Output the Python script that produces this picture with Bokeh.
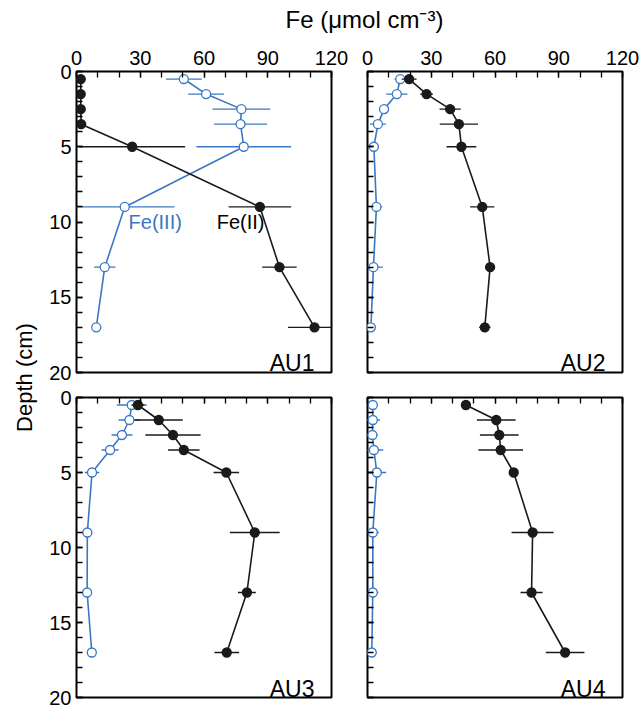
import numpy as np
from math import pi
from bokeh.plotting import figure
from bokeh.layouts import row, column
from bokeh.models import FixedTicker, Label, ColumnDataSource, Range1d
from bokeh.embed import file_html
from bokeh.resources import INLINE
from bokeh.core.properties import value

# ---- data ----
depth = [0.5, 1.5, 2.5, 3.5, 5, 9, 13, 17]

au1_fe2 = [2, 2, 2, 2.2, 26.2, 86.3, 95.5, 112]
au1_fe2_err = [1, 1, 1, 1, 24.9, 14.7, 8.1, 12.5]
au1_fe3 = [50.5, 61, 77.6, 77.2, 78.7, 22.7, 13.3, 9.3]
au1_fe3_err = [8.4, 8.4, 13.6, 12.5, 22.3, 23.4, 5, 1.8]

au2_fe2 = [19.6, 27.8, 38.9, 43, 44.2, 54, 57.7, 55.2]
au2_fe2_err = [3.5, 3, 5, 9, 7, 5.7, 1, 2.7]
au2_fe3 = [15.4, 13.8, 7.8, 4.9, 3, 4.2, 2.8, 1.6]
au2_fe3_err = [2.7, 5, 1, 3.7, 2.3, 2.7, 4.4, 1]

au3_fe2 = [28.9, 38.7, 45.4, 50.5, 70.5, 83.9, 80.2, 70.7]
au3_fe2_err = [3, 11.3, 13, 7.4, 6, 11.7, 4.2, 5.8]
au3_fe3 = [26, 24.9, 21.4, 15.8, 7.3, 5.1, 5, 7.2]
au3_fe3_err = [7, 5.1, 4.9, 4, 3.4, 2, 1.9, 2]

au4_fe2 = [46.3, 60.6, 62, 62.7, 68.8, 77.7, 77.2, 93]
au4_fe2_err = [1, 9.1, 9.1, 10.5, 1, 9.9, 5.2, 9.1]
au4_fe3 = [2.5, 2.5, 2.3, 3, 4.4, 2.5, 2.5, 2]
au4_fe3_err = [2, 3.4, 2.5, 4.4, 4.4, 2.8, 2.6, 2.2]

x_ticks = [0, 30, 60, 90, 120]
x_minor = list(range(0, 121, 10))
y_ticks = [0, 5, 10, 15, 20]
y_minor = list(range(0, 21))

panel_names = ["AU1", "AU2", "AU3", "AU4"]
title_text = "Fe (μmol cm⁻³)"
ylabel_text = "Depth (cm)"

FONT = "Liberation Sans"
BLACK = "#1a1a1a"
BLUE = "#3b78c3"


def make_panel(fe2, fe2e, fe3, fe3e, name, show_x, show_y,
               bl, br, bt, bb, fh):
    p = figure(frame_width=255, frame_height=fh,
               x_range=Range1d(0, 120), y_range=Range1d(20, 0),
               x_axis_location="above", y_axis_location="left",
               output_backend="svg", toolbar_location=None,
               min_border_left=bl, min_border_right=br,
               min_border_top=bt, min_border_bottom=bb)
    p.grid.visible = False
    p.outline_line_color = "black"
    p.outline_line_width = 2
    p.background_fill_color = "white"
    p.border_fill_color = "white"

    xa = p.xaxis[0]
    xa.ticker = FixedTicker(ticks=x_ticks, minor_ticks=x_minor)
    ya = p.yaxis[0]
    ya.ticker = FixedTicker(ticks=y_ticks, minor_ticks=y_minor)
    for ax in (xa, ya):
        ax.axis_line_color = None
        ax.major_tick_in = 6
        ax.major_tick_out = 0
        ax.minor_tick_in = 6
        ax.minor_tick_out = 0
        ax.major_tick_line_color = "black"
        ax.minor_tick_line_color = "black"
        ax.major_tick_line_width = 1.3
        ax.minor_tick_line_width = 1.3
        ax.major_label_text_font = FONT
        ax.major_label_text_font_size = "20px"
        ax.major_label_text_color = "black"
    xa.major_label_standoff = 7
    ya.major_label_standoff = 5
    if not show_x:
        xa.major_label_overrides = {t: "" for t in x_ticks}
        xa.major_label_standoff = 0
    if not show_y:
        ya.major_label_overrides = {t: "" for t in y_ticks}
        ya.major_label_standoff = 0

    d = np.array(depth, dtype=float)
    for vals, errs, color, filled in ((fe3, fe3e, BLUE, False),
                                      (fe2, fe2e, BLACK, True)):
        v = np.array(vals, dtype=float)
        e = np.array(errs, dtype=float)
        src = ColumnDataSource(dict(x=v, y=d, lo=v - e, hi=v + e))
        p.segment(x0="lo", x1="hi", y0="y", y1="y", source=src,
                  line_color=color, line_width=1.3)
        p.line(x="x", y="y", source=src, line_color=color, line_width=1.6)
        p.scatter(x="x", y="y", source=src, size=9,
                  fill_color=color if filled else "white",
                  line_color=color, line_width=1.3)

    p.add_layout(Label(x=112, y=19.4, text=name, text_font=FONT,
                       text_font_size="23px", text_color="black",
                       text_align="right", text_baseline="alphabetic"))
    return p


TITLE_H = 34
p1 = make_panel(au1_fe2, au1_fe2_err, au1_fe3, au1_fe3_err, panel_names[0],
                True, True, 36, 18, 37, 12, 301)
p2 = make_panel(au2_fe2, au2_fe2_err, au2_fe3, au2_fe3_err, panel_names[1],
                True, False, 18, 20, 37, 12, 301)
p3 = make_panel(au3_fe2, au3_fe2_err, au3_fe3, au3_fe3_err, panel_names[2],
                False, True, 36, 18, 13, 12, 300)
p4 = make_panel(au4_fe2, au4_fe2_err, au4_fe3, au4_fe3_err, panel_names[3],
                False, False, 18, 20, 13, 12, 300)

p1.add_layout(Label(x=24.5, y=10.0, text="Fe(III)", text_font=FONT,
                    text_font_size="20px", text_color=BLUE,
                    text_align="left", text_baseline="middle"))
p1.add_layout(Label(x=66, y=10.0, text="Fe(II)", text_font=FONT,
                    text_font_size="20px", text_color="black",
                    text_align="left", text_baseline="middle"))

# title strip
pt = figure(width=602, height=TITLE_H, x_range=Range1d(0, 602), y_range=Range1d(0, TITLE_H),
            x_axis_location=None, y_axis_location=None,
            output_backend="svg", toolbar_location=None,
            min_border=0, min_border_left=0, min_border_right=0,
            min_border_top=0, min_border_bottom=0)
pt.grid.visible = False
pt.outline_line_color = None
pt.text(x=[324], y=[TITLE_H - 19], text=[title_text], text_font=value(FONT),
        text_font_size="24px", text_color="black",
        text_align="center", text_baseline="middle")

# depth label strip
total_h = TITLE_H + (37 + 301 + 12) + (13 + 300 + 12)
pd = figure(width=40, height=total_h, x_range=Range1d(0, 40), y_range=Range1d(0, total_h),
            x_axis_location=None, y_axis_location=None,
            output_backend="svg", toolbar_location=None,
            min_border=0, min_border_left=0, min_border_right=0,
            min_border_top=0, min_border_bottom=0)
pd.grid.visible = False
pd.outline_line_color = None
pd.text(x=[24], y=[total_h - 377], text=[ylabel_text], text_font=value(FONT),
        text_font_size="22px", text_color="black", angle=pi / 2,
        text_align="center", text_baseline="middle")

layout = row(pd, column(pt, row(p1, p2), row(p3, p4)))

open("out.html", "w").write(file_html(layout, INLINE))
